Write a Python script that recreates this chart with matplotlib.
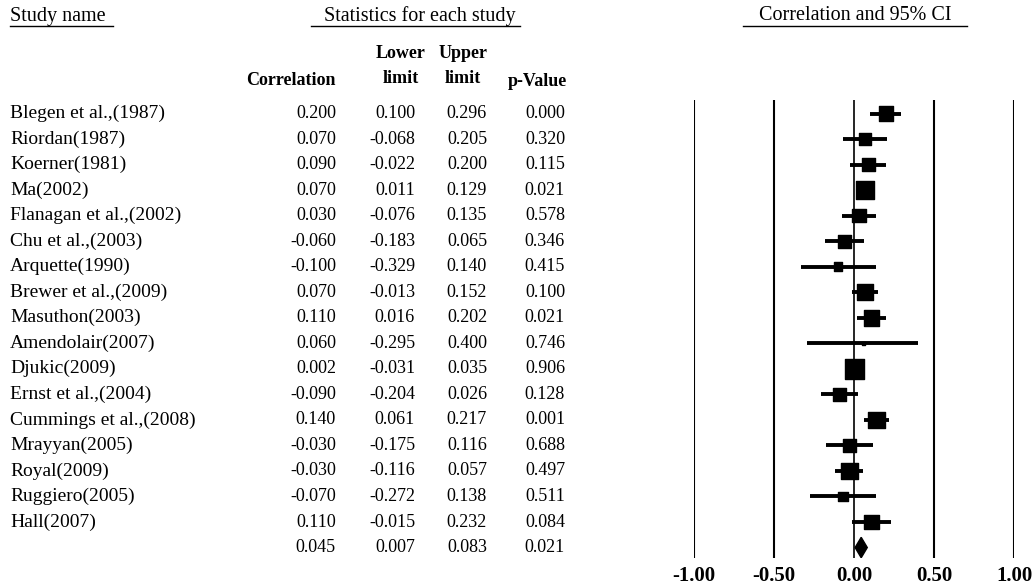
import numpy as np
import matplotlib
matplotlib.use('Agg')
import matplotlib.pyplot as plt
from matplotlib import transforms

plt.rcParams['font.family'] = 'Liberation Serif'

studies = ['Blegen et al.,(1987)', 'Riordan(1987)', 'Koerner(1981)', 'Ma(2002)',
           'Flanagan et al.,(2002)', 'Chu et al.,(2003)', 'Arquette(1990)',
           'Brewer et al.,(2009)', 'Masuthon(2003)', 'Amendolair(2007)',
           'Djukic(2009)', 'Ernst et al.,(2004)', 'Cummings et al.,(2008)',
           'Mrayyan(2005)', 'Royal(2009)', 'Ruggiero(2005)', 'Hall(2007)']
corr = [0.200, 0.070, 0.090, 0.070, 0.030, -0.060, -0.100, 0.070, 0.110, 0.060,
        0.002, -0.090, 0.140, -0.030, -0.030, -0.070, 0.110]
lower = [0.100, -0.068, -0.022, 0.011, -0.076, -0.183, -0.329, -0.013, 0.016, -0.295,
         -0.031, -0.204, 0.061, -0.175, -0.116, -0.272, -0.015]
upper = [0.296, 0.205, 0.200, 0.129, 0.135, 0.065, 0.140, 0.152, 0.202, 0.400,
         0.035, 0.026, 0.217, 0.116, 0.057, 0.138, 0.232]
pval = [0.000, 0.320, 0.115, 0.021, 0.578, 0.346, 0.415, 0.100, 0.021, 0.746,
        0.906, 0.128, 0.001, 0.688, 0.497, 0.511, 0.084]
# relative weights (%)
weight = [6.4, 4.5, 5.5, 9.1, 5.5, 4.8, 2.3, 7.2, 7.2, 0.3, 11.3, 5.5, 8.2, 4.8, 8.2, 2.8, 6.4]
summary = [0.045, 0.007, 0.083, 0.021]
ticks = [-1.0, -0.5, 0.0, 0.5, 1.0]

W, H = 1036, 586
fig = plt.figure(figsize=(W / 100, H / 100), dpi=100)
n = len(studies)
rows = np.arange(n)

# forest axes: -1 -> 694px, 1 -> 1014px ; top 100px, bottom 558px
ax = fig.add_axes([694 / W, (H - 558) / H, 320 / W, 458 / H])
ax.set_xlim(-1, 1)
ax.set_ylim(n + 0.41, -0.53)
for t in ticks:
    ax.axvline(t, color='black', lw=1.5 if t != 0 else 1.2, zorder=1)
ax.hlines(rows, lower, upper, color='black', lw=2.8, zorder=2)
side = 5.8 * np.sqrt(weight) * 0.72
ax.scatter(corr, rows, marker='s', s=side ** 2, color='black', zorder=3)
d = 0.4
ax.fill([summary[1], summary[0], summary[2], summary[0]],
        [n, n - d, n, n + d], color='black', zorder=3)
ax.set_xticks(ticks)
ax.set_xticklabels(['%.2f' % t for t in ticks], fontweight='bold', fontsize=15)
ax.tick_params(axis='x', length=0, pad=6)
ax.set_yticks([])
for s in ax.spines.values():
    s.set_visible(False)

tr = transforms.blended_transform_factory(fig.transFigure, ax.transData)
fs_name = 14
fs_num = 13
col_x = [336, 415, 487, 565]
for i in range(n):
    fig.text(10 / W, i, studies[i], transform=tr, fontsize=fs_name, va='center', ha='left')
    vals = [corr[i], lower[i], upper[i], pval[i]]
    for x, v in zip(col_x, vals):
        fig.text(x / W, i, '%.3f' % v, transform=tr, fontsize=fs_num, va='center', ha='right')
for x, v in zip(col_x, summary):
    fig.text(x / W, n, '%.3f' % v, transform=tr, fontsize=fs_num, va='center', ha='right')

# headers
fs_head = 14.5
hy = 1 - 16 / H
fig.text(10 / W, hy, 'Study name', fontsize=fs_head, va='center', ha='left')
fig.text(420 / W, hy, 'Statistics for each study', fontsize=fs_head, va='center', ha='center')
fig.text(855 / W, hy, 'Correlation and 95% CI', fontsize=fs_head, va='center', ha='center')
ly = 1 - 26 / H
for x0, x1 in [(10, 113), (311, 520), (743, 967)]:
    fig.add_artist(plt.Line2D([x0 / W, x1 / W], [ly, ly], color='black', lw=1,
                              transform=fig.transFigure))
fs_col = 13
fig.text(336 / W, 1 - 81 / H, 'Correlation', fontsize=fs_col, fontweight='bold', va='center', ha='right')
fig.text(401 / W, 1 - 66 / H, 'Lower\nlimit', fontsize=fs_col, fontweight='bold', va='center', ha='center',
         multialignment='center', linespacing=1.55)
fig.text(463 / W, 1 - 66 / H, 'Upper\nlimit', fontsize=fs_col, fontweight='bold', va='center', ha='center',
         multialignment='center', linespacing=1.55)
fig.text(567 / W, 1 - 82 / H, 'p-Value', fontsize=fs_col, fontweight='bold', va='center', ha='right')

fig.savefig('out.png', dpi=100)
